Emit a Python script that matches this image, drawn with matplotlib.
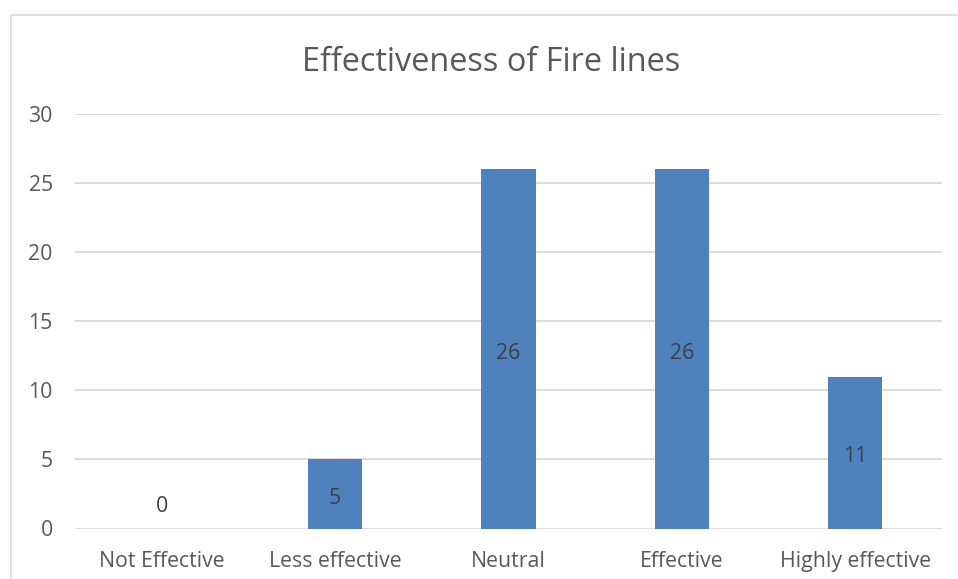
import matplotlib
matplotlib.use('Agg')
import matplotlib.pyplot as plt
from matplotlib.patches import Rectangle

W, H = 958, 579
GRID = '#D9D9D9'
TEXT = '#595959'
BAR = '#4F81BD'

categories = ['Not Effective', 'Less effective', 'Neutral', 'Effective', 'Highly effective']
counts = [0, 5, 26, 26, 11]
yticks = [0, 5, 10, 15, 20, 25, 30]

plt.rcParams['font.family'] = ['Open Sans', 'DejaVu Sans']

fig = plt.figure(figsize=(W / 100, H / 100), dpi=100)
fig.patch.set_facecolor('white')

# outer chart frame, cropped at right and bottom like the screenshot
fig.patches.append(Rectangle((11 / W, -0.1), 1.2, 1 - 15 / H + 0.1, transform=fig.transFigure,
                             fill=False, edgecolor=GRID, linewidth=1.2))

ax = fig.add_axes([75 / W, (H - 528.5) / H, (942 - 75) / W, (528.5 - 114) / H])
x = range(len(categories))
ax.bar(x, counts, width=0.313, color=BAR, zorder=3)
ax.set_xlim(-0.5, len(categories) - 0.5)
ax.set_ylim(0, 30)
ax.set_yticks(yticks)
ax.set_xticks(list(x))
ax.set_xticklabels(categories)
for s in ax.spines.values():
    s.set_visible(False)
ax.yaxis.grid(True, color=GRID, linewidth=1.3, zorder=0)
ax.set_axisbelow(True)
ax.tick_params(axis='both', length=0, colors=TEXT, labelsize=15.3)
ax.tick_params(axis='y', pad=16)
ax.tick_params(axis='x', pad=16.5)

# data labels: centred in the bar, zero sits just above the axis
for i, v in enumerate(counts):
    off = -3 if v > 0 else 16
    ax.annotate(str(v), (i, v / 2), xytext=(0, off), textcoords='offset points',
                ha='center', va='center', fontsize=15.3, color='#404040', zorder=4)

fig.text(491 / W, 1 - 71 / H, 'Effectiveness of Fire lines', ha='center', va='baseline',
         fontsize=23.4, color=TEXT)

fig.savefig('out.png', dpi=100)
